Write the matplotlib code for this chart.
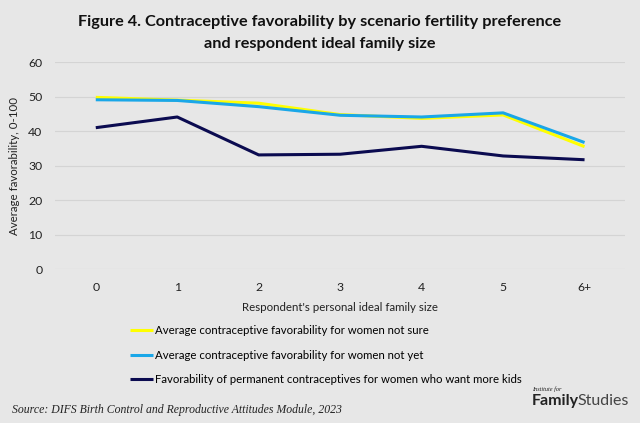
import numpy as np
import matplotlib.pyplot as plt

plt.rcParams['font.family'] = ['Lato', 'DejaVu Sans']

sizes = ['0', '1', '2', '3', '4', '5', '6+']
not_sure = [49.8, 49.0, 48.1, 44.8, 43.7, 44.7, 35.5]
not_yet = [49.1, 48.9, 47.1, 44.6, 44.1, 45.3, 36.7]
want_more = [41.0, 44.1, 33.1, 33.3, 35.6, 32.8, 31.7]

labels = ['Average contraceptive favorability for women not sure',
          'Average contraceptive favorability for women not yet',
          'Favorability of permanent contraceptives for women who want more kids']
colors = ['#ffff00', '#1aa7e8', '#0b0b50']

bg = '#e7e7e7'
fig = plt.figure(figsize=(6.4, 4.23), dpi=100, facecolor=bg)
ax = fig.add_axes([0.086, 0.364, 0.891, 0.489], facecolor=bg)

x = np.arange(len(sizes))
lines = []
for vals, c, lab in zip([not_sure, not_yet, want_more], colors, labels):
    l, = ax.plot(x, vals, color=c, lw=2.2, label=lab, solid_capstyle='butt')
    lines.append(l)

ax.set_xlim(-0.5, len(sizes) - 0.5)
ax.set_ylim(0, 60)
ax.set_yticks(range(0, 61, 10))
ax.set_xticks(x)
ax.set_xticklabels(sizes)
ax.grid(axis='y', color='#d4d4d4', lw=0.8)
ax.set_axisbelow(True)
for s in ax.spines.values():
    s.set_visible(False)
ax.tick_params(length=0, labelsize=8.8, colors='#222222', pad=9)

ax.set_ylabel('Average favorability, 0-100', fontsize=8.3, color='#222222', labelpad=6)
ax.set_xlabel("Respondent's personal ideal family size", fontsize=8.3, color='#222222', labelpad=7)

fig.text(0.5, 0.948, 'Figure 4. Contraceptive favorability by scenario fertility preference',
         ha='center', va='center', fontsize=11.7, fontweight='bold', color='#111111')
fig.text(0.5, 0.896, 'and respondent ideal family size',
         ha='center', va='center', fontsize=11.7, fontweight='bold', color='#111111')

fig.legend(handles=lines, loc='upper left', bbox_to_anchor=(0.203, 0.232),
           frameon=False, fontsize=8.2, handlelength=2.0, handletextpad=0.2,
           labelspacing=1.2, borderaxespad=0, borderpad=0)

fig.text(0.018, 0.031, 'Source: DIFS Birth Control and Reproductive Attitudes Module, 2023',
         family='Liberation Serif', style='italic', fontsize=8.5, color='#222222',
         ha='left', va='center')
fig.text(0.831, 0.080, 'Institute for', family='Liberation Serif', style='italic',
         fontsize=4.5, color='#222222', ha='left', va='center')
fig.text(0.831, 0.052, 'Family', fontweight='bold', fontsize=11.5, color='#222222',
         ha='left', va='center')
fig.text(0.902, 0.052, 'Studies', fontsize=11.5, color='#444444', ha='left', va='center')

fig.savefig('out.png', dpi=100, facecolor=bg)
plt.close(fig)
